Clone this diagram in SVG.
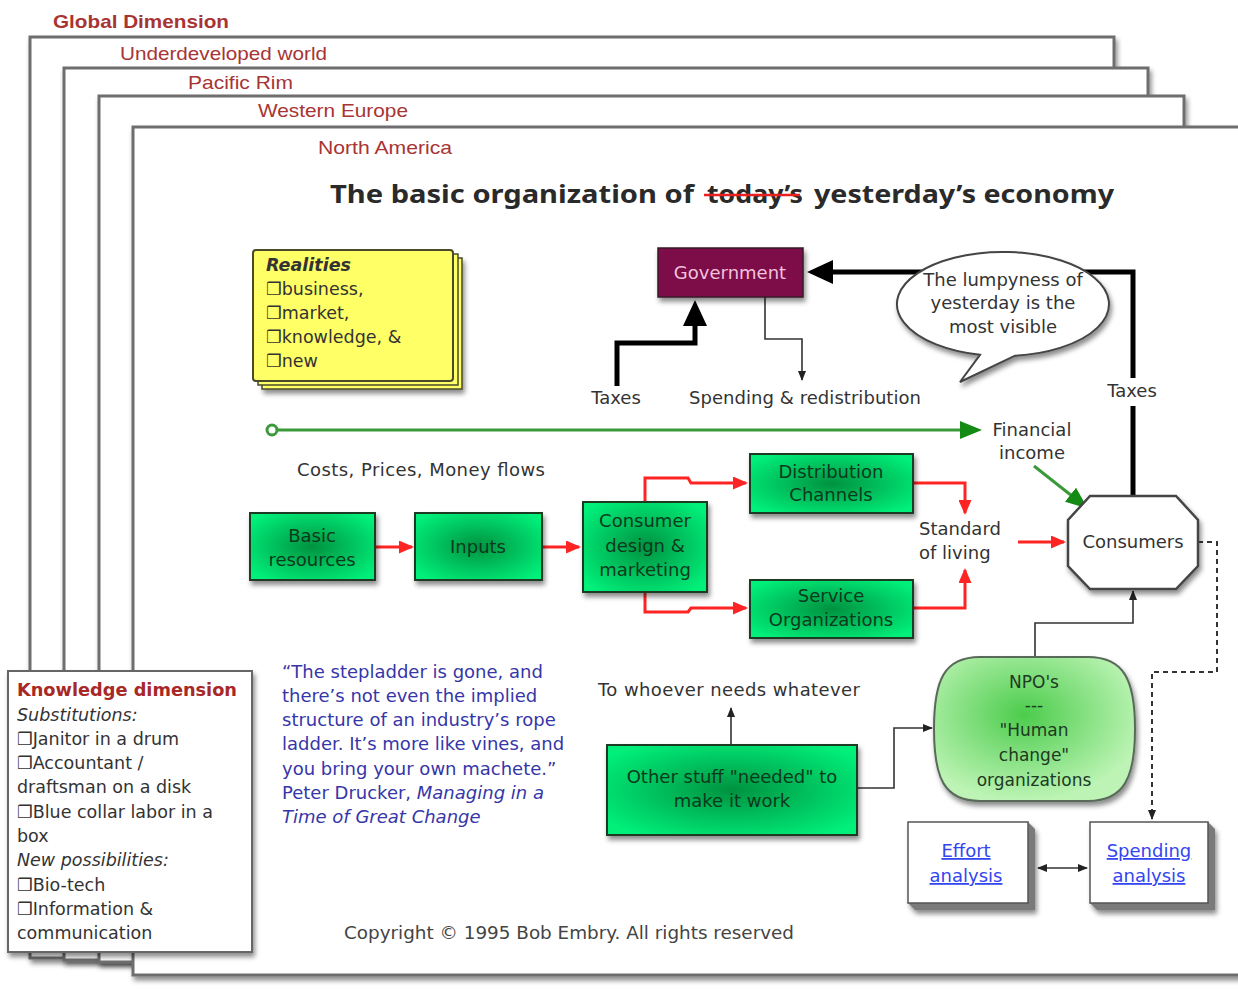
<svg xmlns="http://www.w3.org/2000/svg" width="1238" height="993" viewBox="0 0 1238 993">
<style>
.t{font-family:"DejaVu Sans","Noto Sans",sans-serif;font-size:18px;fill:#333}
.c{text-anchor:middle}
.fl{font-family:"Liberation Sans",Arial,sans-serif;font-size:19px;fill:#a83434}
.gt{font-family:"DejaVu Sans",sans-serif;font-size:18px;fill:#0b3a1c;text-anchor:middle}
.frame{fill:#fff;stroke:#6e6e6e;stroke-width:3}
.gbox{fill:url(#gbox);stroke:#1f3a24;stroke-width:2}
.red{fill:none;stroke:#ff2424;stroke-width:3}
.thin{fill:none;stroke:#333;stroke-width:1.6}
.thick{fill:none;stroke:#000;stroke-width:5}
.kt{font-family:"DejaVu Sans",sans-serif;font-size:17.5px;fill:#333}
.q{font-family:"DejaVu Sans",sans-serif;font-size:18px;fill:#3636a8}
.lnk{font-family:"DejaVu Sans",sans-serif;font-size:18px;fill:#3346f0;text-anchor:middle;text-decoration:underline}
</style>
<defs>
<filter id="sh" x="-10%" y="-10%" width="130%" height="140%">
<feDropShadow dx="2" dy="4" stdDeviation="2.5" flood-color="#000" flood-opacity="0.45"/>
</filter>
<radialGradient id="gbox" cx="50%" cy="50%" r="62%">
<stop offset="0" stop-color="#049240"/>
<stop offset="1" stop-color="#00f07a"/>
</radialGradient>
<radialGradient id="gnpo" cx="45%" cy="40%" r="60%">
<stop offset="0" stop-color="#4ccc4c"/>
<stop offset="1" stop-color="#bdf4b5"/>
</radialGradient>
<marker id="aBig" markerUnits="userSpaceOnUse" viewBox="0 0 26 24" markerWidth="26" markerHeight="24" refX="14" refY="12" orient="auto"><path d="M0,0 L26,12 L0,24 Z" fill="#000"/></marker>
<marker id="aRed" markerUnits="userSpaceOnUse" viewBox="0 0 15 13" markerWidth="15" markerHeight="13" refX="13" refY="6.5" orient="auto"><path d="M0,0 L15,6.5 L0,13 Z" fill="#ff2424"/></marker>
<marker id="aGreen" markerUnits="userSpaceOnUse" viewBox="0 0 22 18" markerWidth="22" markerHeight="18" refX="2" refY="9" orient="auto"><path d="M0,0 L22,9 L0,18 Z" fill="#138a13"/></marker>
<marker id="aSmall" markerUnits="userSpaceOnUse" viewBox="0 0 10 8" markerWidth="10" markerHeight="8" refX="9" refY="4" orient="auto-start-reverse"><path d="M0,0 L10,4 L0,8 Z" fill="#222"/></marker>
</defs>

<g id="frames">
<rect class="frame" x="30" y="37" width="1084" height="921" filter="url(#sh)"/>
<rect class="frame" x="64" y="68" width="1084" height="892" filter="url(#sh)"/>
<rect class="frame" x="99" y="96" width="1085" height="866" filter="url(#sh)"/>
<rect class="frame" x="133" y="127" width="1130" height="848" filter="url(#sh)"/>
<text class="fl" x="53" y="28" font-weight="bold" textLength="176" lengthAdjust="spacingAndGlyphs">Global Dimension</text>
<text class="fl" x="120" y="60" textLength="207" lengthAdjust="spacingAndGlyphs">Underdeveloped world</text>
<text class="fl" x="188" y="89" textLength="105" lengthAdjust="spacingAndGlyphs">Pacific Rim</text>
<text class="fl" x="258" y="117" textLength="150" lengthAdjust="spacingAndGlyphs">Western Europe</text>
<text class="fl" x="318" y="154" textLength="134" lengthAdjust="spacingAndGlyphs">North America</text>
</g>

<g id="title" font-family="'Noto Sans','DejaVu Sans',sans-serif" font-weight="bold" font-size="25" fill="#2a2a2a">
<text x="330" y="203" textLength="364" lengthAdjust="spacingAndGlyphs">The basic organization of</text>
<text x="707" y="203" textLength="96" lengthAdjust="spacingAndGlyphs">today’s</text>
<text x="814" y="203" textLength="300" lengthAdjust="spacingAndGlyphs">yesterday’s economy</text>
<line x1="704" y1="195" x2="800" y2="195" stroke="#e82020" stroke-width="2.5"/>
</g>

<g id="connectors">
<path class="thick" d="M1133,497 V406 M1133,378 V272 H819" marker-end="url(#aBig)"/>
<path class="thick" d="M617,386 V343 H695 V312" marker-end="url(#aBig)"/>
<path class="thin" d="M765,297 V339 H802 V380" marker-end="url(#aSmall)"/>
<circle cx="272" cy="430" r="5" fill="#fff" stroke="#3a9a3a" stroke-width="3"/>
<path d="M277,430 H962" fill="none" stroke="#3a9a3a" stroke-width="3" marker-end="url(#aGreen)"/>
<path d="M1034,466 L1072,496" fill="none" stroke="#3a9a3a" stroke-width="3" marker-end="url(#aGreen)"/>
<path class="red" d="M375,547 H412" marker-end="url(#aRed)"/>
<path class="red" d="M542,547 H579" marker-end="url(#aRed)"/>
<path class="red" d="M645,502 V478 H688 L691,483 H746" marker-end="url(#aRed)"/>
<path class="red" d="M645,592 V612 H688 L691,608 H746" marker-end="url(#aRed)"/>
<path class="red" d="M913,483 H965 V513" marker-end="url(#aRed)"/>
<path class="red" d="M913,608 H965 V570" marker-end="url(#aRed)"/>
<path class="red" d="M1018,542 H1064" marker-end="url(#aRed)"/>
<path class="thin" d="M1035,657 V623 H1133 V591" marker-end="url(#aSmall)"/>
<path class="thin" d="M857,788 H894 V728 H932" marker-end="url(#aSmall)"/>
<path class="thin" d="M731,745 V708" marker-end="url(#aSmall)"/>
<path d="M1198,542 H1217 V672 H1152 V819" fill="none" stroke="#333" stroke-width="2" stroke-dasharray="5,4" marker-end="url(#aSmall)"/>
<path class="thin" d="M1038,868 H1087" stroke-width="2" marker-start="url(#aSmall)" marker-end="url(#aSmall)"/>
<text class="t c" x="616" y="404">Taxes</text>
<text class="t c" x="805" y="404" textLength="232">Spending &amp; redistribution</text>
<text class="t c" x="1132" y="397">Taxes</text>
<text class="t c" x="1032" y="436">Financial</text>
<text class="t c" x="1032" y="459">income</text>
<text class="t" x="297" y="476" textLength="248">Costs, Prices, Money flows</text>
<text class="t" x="919" y="535">Standard</text>
<text class="t" x="919" y="559">of living</text>
<text class="t c" x="729" y="696" textLength="262">To whoever needs whatever</text>
</g>

<g id="realities">
<rect x="262" y="258" width="200" height="131" fill="#ffff66" stroke="#4a4a2a" stroke-width="1.5" filter="url(#sh)"/>
<rect x="258" y="254" width="200" height="131" fill="#ffff66" stroke="#4a4a2a" stroke-width="1.5"/>
<rect x="253" y="250" width="200" height="131" rx="3" fill="#ffff66" stroke="#4a4a2a" stroke-width="2"/>
<text class="kt" x="266" y="271" font-weight="bold" font-style="italic">Realities</text>
<text class="kt" x="266" y="295">❐business,</text>
<text class="kt" x="266" y="319">❐market,</text>
<text class="kt" x="266" y="343">❐knowledge, &amp;</text>
<text class="kt" x="266" y="367">❐new</text>
</g>

<g id="government">
<rect x="658" y="248" width="145" height="49" fill="#7c0b49" stroke="#3a1a2a" stroke-width="1.5" filter="url(#sh)"/>
<text class="t c" x="730" y="279" style="fill:#f2c2dc">Government</text>
</g>

<g id="bubble">
<path d="M980,354.8 L960,382 L1015,355.7 A106 52 0 1 0 980 354.8 Z" fill="#fff" stroke="#444" stroke-width="2" filter="url(#sh)"/>
<text class="t c" x="1003" y="286">The lumpyness of</text>
<text class="t c" x="1003" y="309">yesterday is the</text>
<text class="t c" x="1003" y="333">most visible</text>
</g>

<g id="basic-resources">
<rect class="gbox" x="250" y="513" width="125" height="67" filter="url(#sh)"/>
<text class="gt" x="312" y="542">Basic</text>
<text class="gt" x="312" y="566">resources</text>
</g>
<g id="inputs">
<rect class="gbox" x="415" y="513" width="127" height="67" filter="url(#sh)"/>
<text class="gt" x="478" y="553">Inputs</text>
</g>
<g id="consumer-design">
<rect class="gbox" x="583" y="502" width="124" height="90" filter="url(#sh)"/>
<text class="gt" x="645" y="527">Consumer</text>
<text class="gt" x="645" y="552">design &amp;</text>
<text class="gt" x="645" y="576">marketing</text>
</g>
<g id="distribution">
<rect class="gbox" x="750" y="454" width="163" height="59" filter="url(#sh)"/>
<text class="gt" x="831" y="478">Distribution</text>
<text class="gt" x="831" y="501">Channels</text>
</g>
<g id="service">
<rect class="gbox" x="750" y="580" width="163" height="58" filter="url(#sh)"/>
<text class="gt" x="831" y="602">Service</text>
<text class="gt" x="831" y="626">Organizations</text>
</g>
<g id="other-stuff">
<rect class="gbox" x="607" y="745" width="250" height="90" filter="url(#sh)"/>
<text class="gt" x="732" y="783">Other stuff "needed" to</text>
<text class="gt" x="732" y="807">make it work</text>
</g>

<g id="consumers">
<polygon points="1090,496 1176,496 1198,520 1198,566 1176,589 1090,589 1068,566 1068,520" fill="#fff" stroke="#444" stroke-width="2.5" filter="url(#sh)"/>
<text class="t c" x="1133" y="548">Consumers</text>
</g>

<g id="npo">
<path d="M980,657 H1088 C1124,657 1135,680 1135,729 C1135,778 1124,801 1088,801 H980 C944,801 934,778 934,729 C934,680 944,657 980,657 Z" fill="url(#gnpo)" stroke="#5a6a5a" stroke-width="2" filter="url(#sh)"/>
<g font-family="'DejaVu Sans',sans-serif" font-size="17" fill="#1e3a22" text-anchor="middle">
<text x="1034" y="688">NPO's</text>
<text x="1034" y="711">---</text>
<text x="1034" y="736">"Human</text>
<text x="1034" y="761">change"</text>
<text x="1034" y="786">organizations</text>
</g>
</g>

<g id="effort-analysis">
<path d="M908,822 H1028 L1035,829 V910 H915 L908,903 Z" fill="#7a7a7a" filter="url(#sh)"/>
<rect x="908" y="822" width="120" height="81" fill="#fff" stroke="#555" stroke-width="1.5"/>
<text class="lnk" x="966" y="857">Effort</text>
<text class="lnk" x="966" y="882">analysis</text>
</g>
<g id="spending-analysis">
<path d="M1090,822 H1208 L1215,829 V910 H1097 L1090,903 Z" fill="#7a7a7a" filter="url(#sh)"/>
<rect x="1090" y="822" width="118" height="81" fill="#fff" stroke="#555" stroke-width="1.5"/>
<text class="lnk" x="1149" y="857">Spending</text>
<text class="lnk" x="1149" y="882">analysis</text>
</g>

<g id="knowledge-dimension">
<rect x="8" y="671" width="244" height="281" fill="#fff" stroke="#666" stroke-width="2" filter="url(#sh)"/>
<text class="kt" x="17" y="696" font-weight="bold" style="fill:#a82828" textLength="220" lengthAdjust="spacingAndGlyphs">Knowledge dimension</text>
<text class="kt" x="17" y="721" font-style="italic">Substitutions:</text>
<text class="kt" x="17" y="745">❐Janitor in a drum</text>
<text class="kt" x="17" y="769">❐Accountant /</text>
<text class="kt" x="17" y="793">draftsman on a disk</text>
<text class="kt" x="17" y="818">❐Blue collar labor in a</text>
<text class="kt" x="17" y="842">box</text>
<text class="kt" x="17" y="866" font-style="italic">New possibilities:</text>
<text class="kt" x="17" y="891">❐Bio-tech</text>
<text class="kt" x="17" y="915">❐Information &amp;</text>
<text class="kt" x="17" y="939">communication</text>
</g>

<g id="quote">
<text class="q" x="282" y="678">“The stepladder is gone, and</text>
<text class="q" x="282" y="702">there’s not even the implied</text>
<text class="q" x="282" y="726">structure of an industry’s rope</text>
<text class="q" x="282" y="750">ladder. It’s more like vines, and</text>
<text class="q" x="282" y="775">you bring your own machete.”</text>
<text class="q" x="282" y="799">Peter Drucker, <tspan font-style="italic">Managing in a</tspan></text>
<text class="q" x="282" y="823" font-style="italic">Time of Great Change</text>
</g>

<g id="copyright">
<text class="t" x="344" y="939" font-size="17" style="font-size:17px;fill:#444" textLength="450" lengthAdjust="spacingAndGlyphs">Copyright © 1995 Bob Embry. All rights reserved</text>
</g>
</svg>
